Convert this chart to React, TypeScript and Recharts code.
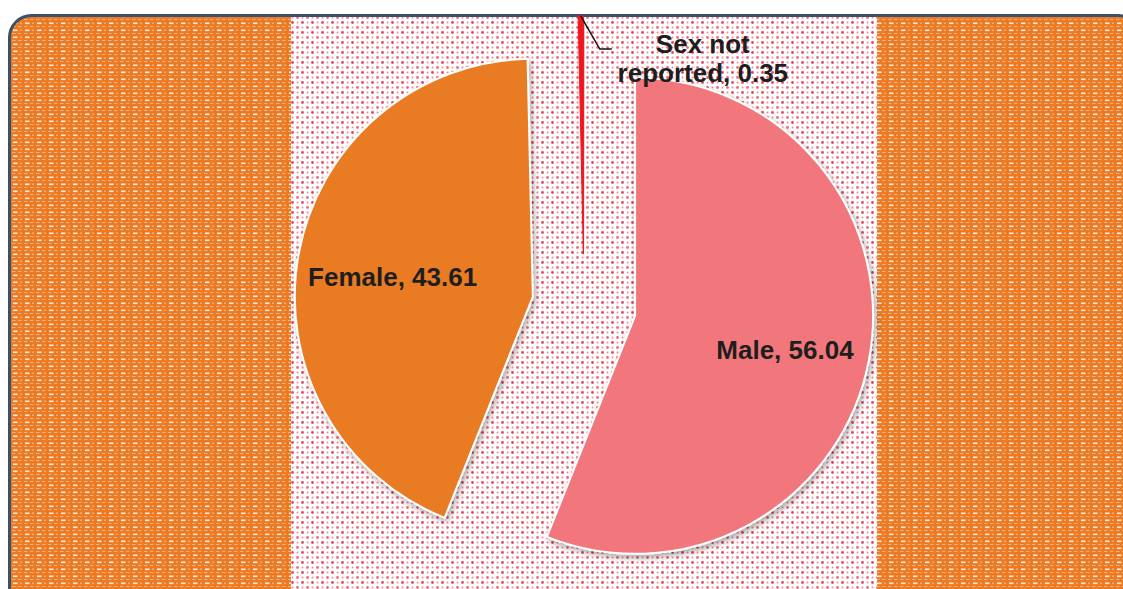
import { Pie, PieChart, Sector } from 'recharts'

// Share of cases by sex (%), drawn clockwise from 12 o'clock.
const SEXES = ['Male', 'Female', 'Sex not reported']
const SHARES = [56.04, 43.61, 0.35]
const SLICE_COLORS = ['#F2777C', '#E97C24', '#F0141E']

const data = SEXES.map((name, i) => ({ name, value: SHARES[i], fill: SLICE_COLORS[i] }))

const W = 1123
const H = 589
const RADIUS = 238
const EXPLODE = 52
const RAD = Math.PI / 180
const TEXT_COLOR = '#1E1E1E'
const FONT = '"Liberation Sans", Arial, sans-serif'

function offset(props: any) {
  const mid =
    props.midAngle ?? ((props.startAngle as number) + (props.endAngle as number)) / 2
  return {
    dx: Math.cos(-mid * RAD),
    dy: Math.sin(-mid * RAD),
  }
}

// Each slice pushed out along its own mid angle, like the exploded pie in Excel.
function ExplodedSector(props: any) {
  const { dx, dy } = offset(props)
  const thin = Math.abs(props.endAngle - props.startAngle) < 5
  return (
    <Sector
      cx={props.cx + dx * EXPLODE}
      cy={props.cy + dy * EXPLODE}
      innerRadius={0}
      outerRadius={props.outerRadius}
      startAngle={props.startAngle}
      endAngle={props.endAngle}
      fill={props.fill ?? SLICE_COLORS[props.index ?? 0]}
      stroke={thin ? props.fill : '#ffffff'}
      strokeWidth={thin ? 1 : 2}
      filter="url(#sliceShadow)"
    />
  )
}

function SliceLabel(props: any) {
  const { cx, cy, outerRadius, index } = props
  const { dx, dy } = offset(props)
  const text = `${SEXES[index]}, ${SHARES[index].toFixed(2)}`
  const style = { fontFamily: FONT, fontWeight: 700, fontSize: 26, fill: TEXT_COLOR }

  if (SHARES[index] < 2) {
    // tiny slice: label outside with an elbow leader line
    const ox = cx + dx * (EXPLODE + outerRadius)
    const oy = cy + dy * (EXPLODE + outerRadius)
    const parts = text.split(' reported')
    return (
      <g>
        <polyline
          points={`${ox},${oy} ${ox + 19},${oy + 33} ${ox + 31},${oy + 33}`}
          fill="none"
          stroke="#111"
          strokeWidth={1.5}
        />
        <text x={ox + 122} y={oy + 28} textAnchor="middle" dominantBaseline="central" style={style}>
          {parts[0]}
        </text>
        <text x={ox + 122} y={oy + 57} textAnchor="middle" dominantBaseline="central" style={style}>
          {`reported${parts[1]}`}
        </text>
      </g>
    )
  }

  const r = EXPLODE + outerRadius * 0.62
  return (
    <text
      x={cx + dx * r + 5}
      y={cy + dy * r + 6}
      textAnchor="middle"
      dominantBaseline="central"
      style={style}
    >
      {text}
    </text>
  )
}

function Backdrop() {
  return (
    <svg width={W} height={H} style={{ position: 'absolute', left: 0, top: 0 }}>
      <defs>
        <pattern id="weave" width="12" height="7" patternUnits="userSpaceOnUse">
          <rect width="12" height="7" fill="#EB7A22" />
          <rect x="1" y="1.5" width="4.5" height="1.6" fill="#FFFFFF" opacity="0.85" />
          <rect x="8.5" y="1.5" width="0.9" height="1.6" fill="#FFFFFF" opacity="0.75" />
          <rect x="0" y="5" width="3.5" height="0.7" fill="#FFFFFF" opacity="0.6" />
          <rect x="6" y="5" width="3.5" height="0.7" fill="#FFFFFF" opacity="0.6" />
        </pattern>
        <pattern id="dots" width="10" height="10" patternUnits="userSpaceOnUse">
          <rect width="10" height="10" fill="#FFFFFF" />
          <circle cx="2.5" cy="2.5" r="1.4" fill="#EC4459" />
          <circle cx="7.5" cy="7.5" r="1.4" fill="#F06A7A" />
          <circle cx="7.5" cy="2.5" r="1" fill="#F38C98" />
          <circle cx="2.5" cy="7.5" r="1" fill="#F38C98" />
        </pattern>
        <clipPath id="frameClip">
          <rect x="10" y="16" width="1130" height="600" rx="22" />
        </clipPath>
        <filter id="sliceShadow" x="-20%" y="-20%" width="140%" height="140%">
          <feDropShadow dx="2" dy="3" stdDeviation="3" floodColor="#000" floodOpacity="0.35" />
        </filter>
      </defs>
      <g clipPath="url(#frameClip)">
        <rect x="0" y="0" width="291" height={H} fill="url(#weave)" />
        <rect x="291" y="0" width="586" height={H} fill="url(#dots)" />
        <rect x="877" y="0" width={W - 877} height={H} fill="url(#weave)" />
      </g>
      <rect
        x="9.5"
        y="15.5"
        width="1131"
        height="601"
        rx="22"
        fill="none"
        stroke="#3B5069"
        strokeWidth={3}
      />
    </svg>
  )
}

export default function App() {
  return (
    <div style={{ position: 'fixed', left: 0, top: 0, width: W, height: H, background: '#fff' }}>
      <Backdrop />
      <div style={{ position: 'absolute', left: 0, top: 0 }}>
        <PieChart width={W} height={H} margin={{ top: 0, right: 0, bottom: 0, left: 0 }}>
          <Pie
            data={data}
            dataKey="value"
            nameKey="name"
            cx={584}
            cy={306}
            outerRadius={RADIUS}
            startAngle={90}
            endAngle={-270}
            stroke="#ffffff"
            strokeWidth={2}
            shape={ExplodedSector}
            activeShape={ExplodedSector}
            inactiveShape={ExplodedSector}
            label={SliceLabel}
            labelLine={false}
            isAnimationActive={false}
          />
        </PieChart>
      </div>
    </div>
  )
}
